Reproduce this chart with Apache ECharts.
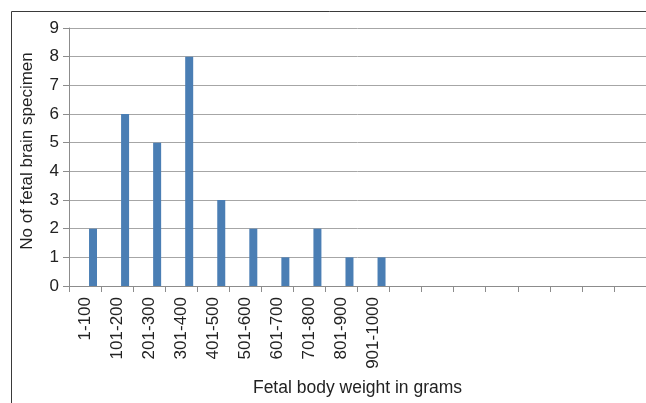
<!DOCTYPE html>
<html>
<head>
<meta charset="utf-8">
<script src="https://cdn.jsdelivr.net/npm/echarts@6/dist/echarts.min.js"></script>
<style>
html,body{margin:0;padding:0;background:#fff;}
#c{width:646px;height:403px;}
</style>
</head>
<body>
<div id="c"></div>
<script>
const categories = ['1-100','101-200','201-300','301-400','401-500','501-600','601-700','701-800','801-900','901-1000','','','','','','','',''];
const specimens = [2,6,5,8,3,2,1,2,1,1];
const yTicks = [0,1,2,3,4,5,6,7,8,9];

const chart = echarts.init(document.getElementById('c'), null, {renderer:'canvas'});
const font = 'Liberation Sans, Arial, sans-serif';
chart.setOption({
  animation:false,
  backgroundColor:'#fff',
  graphic:[{type:'rect', shape:{x:11.5,y:11.5,width:700,height:500}, style:{fill:'none', stroke:'#3a3a3a', lineWidth:1}, silent:true}],
  grid:{left:69, top:28, width:578, height:258, containLabel:false},
  xAxis:{
    type:'category', data:categories, boundaryGap:true,
    name:'Fetal body weight in grams', nameLocation:'middle', nameGap:93,
    nameTextStyle:{fontFamily:font, fontSize:17.5, color:'#222'},
    axisLine:{lineStyle:{color:'#8c8c8c', width:1}},
    axisTick:{show:true, length:6, alignWithLabel:false, interval:0, lineStyle:{color:'#8c8c8c'}},
    axisLabel:{rotate:90, interval:0, margin:11, fontFamily:font, fontSize:17, color:'#222'},
    splitLine:{show:false}
  },
  yAxis:{
    type:'value', min:yTicks[0], max:yTicks[yTicks.length-1], interval:1,
    name:'No of fetal brain specimen', nameLocation:'middle', nameGap:33,
    nameTextStyle:{fontFamily:font, fontSize:17, color:'#222', padding:[0,0,0,12]},
    axisLine:{show:true, lineStyle:{color:'#8c8c8c', width:1}},
    axisTick:{show:true, length:6, inside:false, lineStyle:{color:'#8c8c8c'}},
    axisLabel:{margin:10, fontFamily:font, fontSize:17, color:'#222'},
    splitLine:{show:true, lineStyle:{color:'#a6a6a6', width:1}}
  },
  series:[
    {type:'bar', data:[], barWidth:8, barGap:'0%', barCategoryGap:'25%'},
    {type:'bar', data:[], barWidth:8, barGap:'0%'},
    {type:'bar', data:specimens, barWidth:8, barGap:'0%', itemStyle:{color:'#4a7eb4'}}
  ]
});
</script>
</body>
</html>
